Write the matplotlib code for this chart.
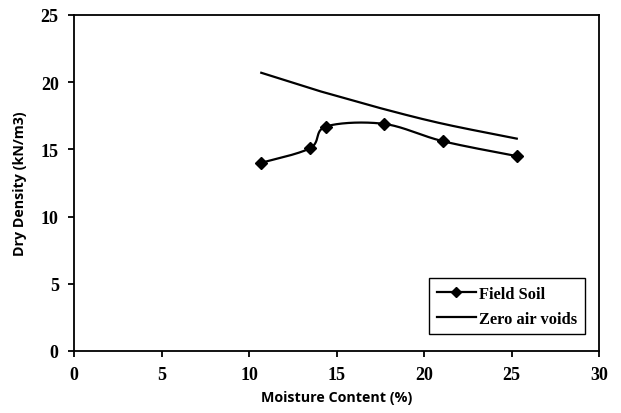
import numpy as np
import matplotlib.pyplot as plt
from matplotlib.lines import Line2D

# compaction test results
moisture = [10.7, 13.5, 14.4, 17.7, 21.1, 25.3]
field_density = [14.0, 15.1, 16.7, 16.9, 15.6, 14.5]
zav_density = [20.7, 19.55, 19.2, 18.0, 16.9, 15.8]


def smooth(xs, ys, n=40):
    # spreadsheet-style smoothed line (cubic Bezier through each point)
    p = np.column_stack([xs, ys]).astype(float)
    pts = np.vstack([p[0], p, p[-1]])
    out = []
    t = np.linspace(0, 1, n)[:, None]
    for i in range(1, len(pts) - 2):
        p0, p1, p2, p3 = pts[i - 1], pts[i], pts[i + 1], pts[i + 2]
        c1 = p1 + (p2 - p0) / 6
        c2 = p2 - (p3 - p1) / 6
        seg = ((1 - t) ** 3) * p1 + 3 * ((1 - t) ** 2) * t * c1 + 3 * (1 - t) * t ** 2 * c2 + t ** 3 * p2
        out.append(seg if i == 1 else seg[1:])
    seg = np.vstack(out)
    return seg[:, 0], seg[:, 1]


fig = plt.figure(figsize=(6.21, 4.14), dpi=100)
ax = fig.add_axes([0.1192, 0.1498, 0.8454, 0.8116])

sx, sy = smooth(moisture, field_density)
ax.plot(sx, sy, color='black', lw=1.6)
ax.plot(moisture, field_density, 'D', color='black', ms=6)
zx, zy = smooth(moisture, zav_density)
ax.plot(zx, zy, color='black', lw=1.6)

ax.set_xlim(0, 30)
ax.set_ylim(0, 25)
ax.set_xticks(range(0, 31, 5))
ax.set_yticks(range(0, 26, 5))
for s in ax.spines.values():
    s.set_linewidth(1.3)
ax.tick_params(direction='out', length=4, width=1.3, pad=7)
for lab in ax.get_xticklabels() + ax.get_yticklabels():
    lab.set_fontfamily('Liberation Serif')
    lab.set_fontweight('bold')
    lab.set_fontsize(13)

ax.set_xlabel('Moisture Content (%)', fontfamily='Open Sans', fontweight='bold', fontsize=10.3, labelpad=5)
ax.set_ylabel('Dry Density (kN/m3)', fontfamily='Open Sans', fontweight='bold', fontsize=10.3, labelpad=10)

handles = [Line2D([], [], color='black', lw=1.6, marker='D', ms=5),
           Line2D([], [], color='black', lw=1.6)]
leg = ax.legend(handles, ['Field Soil', 'Zero air voids'], loc='lower right',
                bbox_to_anchor=(0.973, 0.05), borderaxespad=0, fancybox=False, edgecolor='black',
                framealpha=1, borderpad=0.45, handlelength=2.4, handletextpad=0.2,
                labelspacing=0.55, prop={'family': 'Liberation Serif', 'weight': 'bold', 'size': 11.8})
leg.get_frame().set_linewidth(1.0)

fig.savefig('out.png', dpi=100)
